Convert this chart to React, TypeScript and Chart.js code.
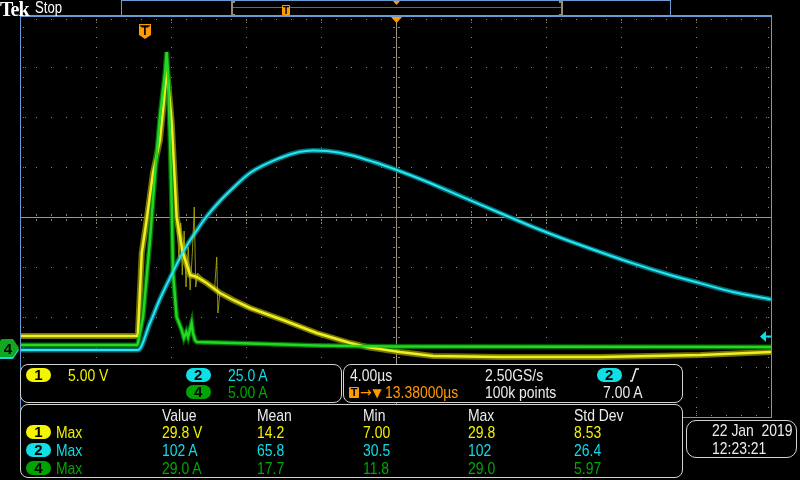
import React, { useEffect, useRef } from "react";
import { Chart, registerables } from "chart.js";
Chart.register(...registerables);

// ---------- time base (µs relative to trigger), 4 µs/div, 10 div ----------
const X_MIN = -6.62;
const X_MAX = 33.38;

// ---------- channel 1 (yellow, 5.00 V/div) ----------
const ch1Scale = 5;
const ch1Offset = -4.2; // ground position in divisions
const ch1Time = [-6.62, -0.43, -0.38, -0.18, 0.08, 0.42, 0.79, 1.06, 1.15, 1.22, 1.42, 1.68, 2.0, 2.4, 2.75, 3.28, 3.99, 4.69, 5.59, 7.35, 9.15, 10.93, 11.82, 13.59, 15.35, 18.93, 24.26, 29.63, 33.38];
const ch1Volts = [9.1, 9.1, 9.4, 17.4, 20.7, 25.4, 28.7, 33.7, 35.4, 34.7, 30.4, 21.0, 17.5, 15.2, 15.0, 14.4, 13.4, 12.7, 11.9, 10.7, 9.4, 8.4, 8.0, 7.5, 7.1, 7.0, 7.0, 7.2, 7.5];
// ringing spikes seen faintly on channel 1 just after the peak
const ch1SpikeTime = [1.68, 1.8, 1.9, 1.98, 2.08, 2.18, 2.3, 2.4, 2.52, 2.62, 2.7, 2.8, 3.28, 3.7, 3.82, 3.88, 3.99];
const ch1SpikeVolts = [21.0, 17.0, 20.4, 15.2, 19.6, 14.0, 18.0, 13.7, 17.5, 22.0, 14.0, 15.4, 14.4, 13.7, 17.0, 11.4, 13.4];

// ---------- channel 2 (cyan, 25.0 A/div) ----------
const ch2Scale = 25;
const ch2Offset = -2.66;
const ch2Time = [-6.62, -0.43, -0.38, 0.26, 0.79, 1.43, 2.02, 2.77, 3.3, 3.99, 4.69, 5.59, 7.19, 8.2, 8.95, 9.7, 10.93, 12.2, 13.42, 14.8, 16.26, 18.93, 20.69, 22.48, 24.26, 26.02, 27.82, 29.63, 31.35, 33.38];
const ch2Amps = [0, 0, 0, 13.5, 25.5, 38, 49, 60, 67, 74.5, 81, 88.5, 96, 99, 99.8, 99.5, 97.5, 94, 90, 85, 79.2, 68.5, 61.5, 55, 49, 43.3, 38, 33.3, 29, 25.3];

// ---------- channel 4 (green, 5.00 A/div) ----------
const ch4Scale = 5;
const ch4Offset = -2.6;
const ch4Time = [-6.62, -0.43, -0.38, -0.11, 0.26, 0.53, 0.79, 1.06, 1.15, 1.22, 1.33, 1.42, 1.49, 1.68, 1.95, 2.07, 2.2, 2.29, 2.48, 2.55, 2.66, 2.75, 5.59, 9.15, 13.06, 33.38];
const ch4Amps = [0.2, 0.2, 0.4, 3.0, 10.7, 17.4, 23.0, 27.4, 29.5, 27.4, 20.7, 14.0, 7.4, 3.0, 1.7, 0.9, 1.5, 1.0, 2.4, 1.4, 0.7, 0.5, 0.35, 0.15, 0.05, 0.0];

// ---------- readouts ----------
const measHeaders = ["Value", "Mean", "Min", "Max", "Std Dev"];
const measCh1 = ["29.8 V", "14.2", "7.00", "29.8", "8.53"];
const measCh2 = ["102 A", "65.8", "30.5", "102", "26.4"];
const measCh4 = ["29.0 A", "17.7", "11.8", "29.0", "5.97"];

const FONT = "'Liberation Sans', Arial, sans-serif";
const YEL = "#f2f200";
const CYA = "#10dde6";
const GRN = "#00a800";
const ORG = "#ff9a00";
const BLUE = "#6a9ad4";
const WHITE = "#ececec";
const DOT = "#8c8270";
const LINE = "#a0957c";

function toPoints(times: number[], vals: number[], scale: number, off: number) {
  return times.map((t, i) => ({ x: t, y: off + vals[i] / scale }));
}

const graticule = {
  id: "graticule",
  beforeDatasetsDraw(chart: any) {
    const { ctx, chartArea: a, scales } = chart;
    const xs = scales.x;
    const ys = scales.y;
    const L = Math.round(a.left), R = Math.round(a.right), T = Math.round(a.top), B = Math.round(a.bottom);
    const cx = Math.round(xs.getPixelForValue(X_MIN + 20));
    const cy = Math.round(ys.getPixelForValue(0));
    ctx.save();
    const dot = (x: number, y: number, w = 1, h = 1) => ctx.fillRect(Math.round(x), Math.round(y), w, h);
    ctx.fillStyle = DOT;
    for (let k = 1; k < 10; k++) {
      if (k === 5) continue;
      const x = xs.getPixelForValue(X_MIN + 4 * k);
      for (let y = T + 10; y < B; y += 10) dot(x, y);
      dot(x, T + 3); dot(x, T + 5); dot(x, B - 4); dot(x, B - 6);
    }
    for (let k = -3; k <= 3; k++) {
      if (k === 0) continue;
      const y = ys.getPixelForValue(k);
      for (let x = L + 15; x < R; x += 15) dot(x, y);
    }
    for (let x = L + 15; x < R; x += 15) { dot(x, T + 2); dot(x, B - 2); }
    for (let y = T + 10; y < B; y += 10) { dot(R - 3, y); dot(L + 2, y); }
    for (let k = -3; k <= 3; k++) { const y = ys.getPixelForValue(k); dot(R - 5, y); dot(L + 4, y); }
    ctx.fillStyle = LINE;
    ctx.fillRect(L, cy, R - L, 1);
    ctx.fillRect(cx, T, 1, B - T);
    ctx.fillStyle = DOT;
    for (let x = L + 15; x < R; x += 15) { dot(x, cy - 3, 1, 2); dot(x, cy + 2, 1, 2); }
    for (let k = 1; k < 10; k++) { const x = xs.getPixelForValue(X_MIN + 4 * k); dot(x, cy - 6, 1, 2); dot(x, cy + 5, 1, 2); }
    for (let y = T + 10; y < B; y += 10) { dot(cx - 3, y, 2, 1); dot(cx + 2, y, 2, 1); }
    ctx.restore();
  },
  afterDatasetsDraw(chart: any) {
    const { ctx, chartArea: a } = chart;
    const L = Math.round(a.left), R = Math.round(a.right), T = Math.round(a.top), B = Math.round(a.bottom);
    ctx.save();
    ctx.fillStyle = BLUE;
    ctx.fillRect(L - 1, T - 2, R - L + 2, 2);
    ctx.fillRect(L - 1, T - 2, 1, B - T + 3);
    ctx.fillRect(R, T - 2, 1, B - T + 3);
    ctx.fillRect(L - 1, B, R - L + 2, 1);
    ctx.restore();
  },
};

function Txt({ x, y, c = WHITE, s = 17, children, bold = false, fam = FONT, sx = 0.82 }: any) {
  return (
    <div
      style={{
        position: "absolute",
        left: x,
        top: y - s * 0.48,
        fontSize: s,
        lineHeight: `${s}px`,
        color: c,
        fontFamily: fam,
        fontWeight: bold ? "bold" : "normal",
        whiteSpace: "pre",
        transform: `scaleX(${sx})`,
        transformOrigin: "0 50%",
      }}
    >
      {children}
    </div>
  );
}

function Pill({ x, y, bg, label }: any) {
  return (
    <div
      style={{
        position: "absolute",
        left: x,
        top: y - 7,
        width: 25,
        height: 14,
        borderRadius: 7,
        background: bg,
        color: "#000",
        fontFamily: "'Liberation Sans', Arial, sans-serif",
        fontWeight: "bold",
        fontSize: 15,
        lineHeight: "14px",
        textAlign: "center",
      }}
    >
      {label}
    </div>
  );
}

function Box({ l, t, r, b, rad = 8 }: any) {
  return (
    <div
      style={{
        position: "absolute",
        left: l,
        top: t,
        width: r - l,
        height: b - t,
        boxSizing: "border-box",
        border: "1.5px solid #d2d2d2",
        borderRadius: rad,
        background: "#000",
      }}
    />
  );
}

export default function App() {
  const ref = useRef<HTMLCanvasElement | null>(null);
  useEffect(() => {
    if (!ref.current) return;
    const c1 = toPoints(ch1Time, ch1Volts, ch1Scale, ch1Offset);
    const c1s = toPoints(ch1SpikeTime, ch1SpikeVolts, ch1Scale, ch1Offset);
    const c2 = toPoints(ch2Time, ch2Amps, ch2Scale, ch2Offset);
    const c4 = toPoints(ch4Time, ch4Amps, ch4Scale, ch4Offset);
    const chart = new Chart(ref.current, {
      type: "line",
      data: {
        datasets: [
          { data: c2, borderColor: "#28e6ee", borderWidth: 2, cubicInterpolationMode: "monotone" },
          { data: c4, borderColor: "#26d626", borderWidth: 2.5 },
          { data: c1, borderColor: "#eeee22", borderWidth: 2.5 },
          { data: c1s, borderColor: "rgba(190,190,0,0.75)", borderWidth: 1 },
          { data: c2, borderColor: "rgba(0,125,135,0.9)", borderWidth: 5, cubicInterpolationMode: "monotone" },
          { data: c4, borderColor: "rgba(0,130,0,0.85)", borderWidth: 5 },
          { data: c1, borderColor: "rgba(135,135,0,0.85)", borderWidth: 6 },
        ] as any,
      },
      options: {
        animation: false,
        responsive: false,
        devicePixelRatio: 1,
        parsing: false as any,
        layout: { padding: { left: 21, right: 29, top: 17, bottom: 63 } },
        elements: { point: { radius: 0 }, line: { fill: false } },
        scales: {
          x: { type: "linear", display: false, min: X_MIN, max: X_MAX },
          y: { type: "linear", display: false, min: -4, max: 4 },
        },
        plugins: { legend: { display: false }, tooltip: { enabled: false } },
      },
      plugins: [graticule],
    });
    return () => chart.destroy();
  }, []);

  const colX = [161.7, 256.7, 362.7, 468.3, 574.3];
  const rows = [
    { y: 432.3, c: YEL, bg: "#f5f500", n: "1", v: measCh1 },
    { y: 450, c: CYA, bg: "#10e0e6", n: "2", v: measCh2 },
    { y: 467.7, c: GRN, bg: "#00a400", n: "4", v: measCh4 },
  ];

  return (
    <div style={{ position: "fixed", left: 0, top: 0, width: 800, height: 480, background: "#000", overflow: "hidden" }}>
      <canvas ref={ref} width={800} height={480} style={{ position: "absolute", left: 0, top: 0, width: 800, height: 480 }} />
      <svg width={800} height={480} style={{ position: "absolute", left: 0, top: 0 }}>
        <rect x={121.5} y={0.5} width={549} height={16} fill="none" stroke={BLUE} strokeWidth={1} />
        <line x1={233} y1={7.5} x2={561} y2={7.5} stroke="#00b000" strokeWidth={1} />
        <path d="M235,2 H232 V15 H235" fill="none" stroke="#968c78" strokeWidth={2} />
        <path d="M559,2 H562 V15 H559" fill="none" stroke="#968c78" strokeWidth={2} />
        <path d="M282,6 Q282,5 283,5 H289 Q290,5 290,6 V15 L286,16 L282,15 Z" fill={ORG} />
        <text x={286} y={14} fontSize={10} fontWeight="bold" textAnchor="middle" fill="#000" fontFamily="'Liberation Sans', Arial">T</text>
        <polygon points="393,1 400,1 396.5,5" fill={ORG} />
        <polygon points="391,17 402,17 396.5,23" fill={ORG} />
        <path d="M139,24 H151 V35 L145,39 L139,35 Z" fill={ORG} />
        <rect x={140} y={25} width={10} height={1.5} fill="#402000" />
        <text x={145} y={35} fontSize={12} fontWeight="bold" textAnchor="middle" fill="#000" fontFamily="'Liberation Sans', Arial">T</text>
        <path d="M0,341 H13 L19,350 L13,359 H0 Z" fill={CYA} />
        <path d="M0,342 Q0,339 3,339 H13 L19,348 L13,357 H0 Z" fill="#10a820" />
        <text x={8} y={353.5} fontSize={15} fontWeight="bold" textAnchor="middle" fill="#000" fontFamily="'Liberation Sans', Arial">4</text>
        <polygon points="760,336.5 766,331 766,342" fill={CYA} />
        <rect x={765} y={335.5} width={6} height={2} fill={CYA} />
      </svg>

      <Txt x={0} y={8.5} s={20} bold sx={1} fam="'Liberation Serif', 'DejaVu Serif', serif" c="#ffffff">
        <span style={{ letterSpacing: -1 }}>Tek</span>
      </Txt>
      <Txt x={35} y={8} s={16} c="#ffffff">Stop</Txt>

      <Box l={20} t={364} r={342} b={403} />
      <Pill x={26} y={375} bg="#f5f500" label="1" />
      <Txt x={67.7} y={375} c={YEL}>5.00 V</Txt>
      <Pill x={185.7} y={375} bg="#10e0e6" label="2" />
      <Txt x={227.7} y={375} c={CYA}>25.0 A</Txt>
      <Pill x={185.7} y={392} bg="#00a400" label="4" />
      <Txt x={227.7} y={392} c={GRN}>5.00 A</Txt>

      <Box l={343} t={364} r={683} b={403} />
      <Txt x={350} y={375}>4.00µs</Txt>
      <Txt x={485} y={375}>2.50GS/s</Txt>
      <Pill x={596.7} y={375} bg="#10e0e6" label="2" />
      <svg width={20} height={20} style={{ position: "absolute", left: 626, top: 365 }}>
        <polyline points="4,16 6,16 10,4 13,4" fill="none" stroke={WHITE} strokeWidth={1.5} />
      </svg>
      <div style={{ position: "absolute", left: 349, top: 387, width: 10, height: 11, background: ORG, borderRadius: 1, color: "#000", fontFamily: "'Liberation Sans', Arial", fontWeight: "bold", fontSize: 11, lineHeight: "11px", textAlign: "center" }}>T</div>
      <Txt x={360} y={392} c={ORG} s={14} sx={1} fam="'DejaVu Sans', sans-serif">→</Txt>
      <Txt x={372.5} y={392.5} c={ORG} s={12} sx={1} fam="'DejaVu Sans', sans-serif">▼</Txt>
      <Txt x={385} y={392.3} c={ORG}>13.38000µs</Txt>
      <Txt x={485} y={392.3}>100k points</Txt>
      <Txt x={603.3} y={392.3}>7.00 A</Txt>

      <Box l={20} t={404} r={683} b={478} />
      {measHeaders.map((h, i) => (
        <Txt key={h} x={colX[i]} y={415}>{h}</Txt>
      ))}
      {rows.map((r) => (
        <React.Fragment key={r.n}>
          <Pill x={26} y={r.y} bg={r.bg} label={r.n} />
          <Txt x={55.7} y={r.y} c={r.c}>Max</Txt>
          {r.v.map((v, i) => (
            <Txt key={i} x={colX[i]} y={r.y} c={r.c}>{v}</Txt>
          ))}
        </React.Fragment>
      ))}

      <Box l={686} t={420} r={797} b={458} rad={10} />
      <Txt x={711.7} y={430}>22 Jan  2019</Txt>
      <Txt x={711.7} y={448.3}>12:23:21</Txt>
    </div>
  );
}
